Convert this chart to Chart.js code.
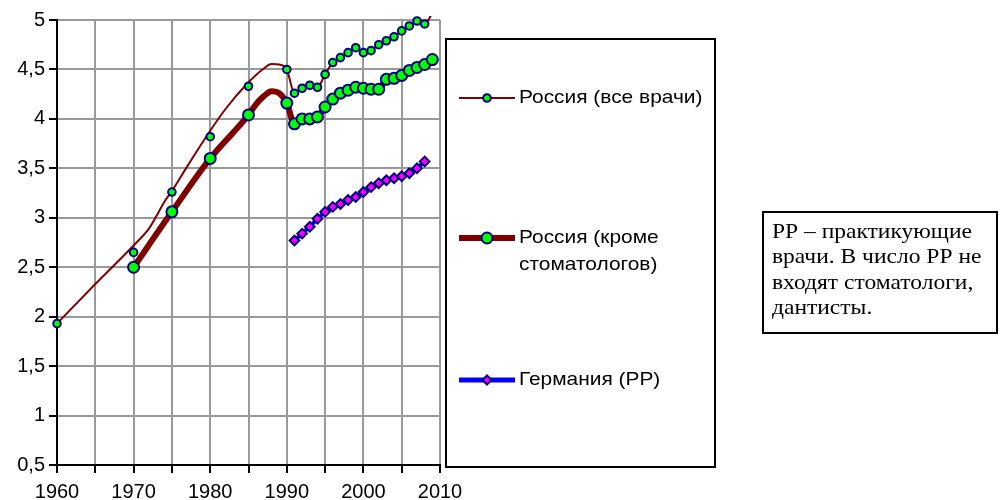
<!DOCTYPE html>
<html>
<head>
<meta charset="utf-8">
<script src="https://cdn.jsdelivr.net/npm/chart.js@4.4.1/dist/chart.umd.min.js"></script>
<style>
  body { margin: 0; background: #fff; }
  #wrap { position: relative; width: 1001px; height: 500px; }
  #note {
    position: absolute; left: 762px; top: 211px; width: 236px; height: 123px;
    box-sizing: border-box; border: 2px solid #000; padding: 6px 0 0 8px;
    font: 21px "Liberation Serif", "Times New Roman", serif; line-height: 25.3px; color: #000;
  }
  #note div { transform: scaleX(1.12); transform-origin: 0 0; white-space: nowrap; }
</style>
</head>
<body>
<div id="wrap">
  <canvas id="chart" width="1001" height="500"></canvas>
  <div id="note"><div>РР – практикующие<br>врачи. В число РР не<br>входят стоматологи,<br>дантисты.</div></div>
</div>
<script>
// Россия (все врачи): тонкая линия
const ruAllLineYears = [1960, 1965, 1970, 1972, 1973, 1974, 1975, 1977, 1980, 1982, 1985, 1987, 1988, 1989,
  1990, 1991, 1992, 1993, 1994, 1995, 1996, 1997, 1998, 1999, 2000, 2001, 2002, 2003, 2004, 2005, 2006, 2007, 2008, 2009];
const ruAllLineValues = [1.93, 2.33, 2.72, 2.89, 3.02, 3.16, 3.27, 3.52, 3.88, 4.10, 4.37, 4.51, 4.555, 4.55,
  4.50, 4.26, 4.31, 4.34, 4.32, 4.45, 4.57, 4.62, 4.67, 4.72, 4.67, 4.69, 4.75, 4.79, 4.83, 4.89, 4.94, 4.99, 4.96, 5.07];
// Россия (все врачи): маркеры
const ruAllMarkYears = [1960, 1970, 1975, 1980, 1985,
  1990, 1991, 1992, 1993, 1994, 1995, 1996, 1997, 1998, 1999, 2000, 2001, 2002, 2003, 2004, 2005, 2006, 2007, 2008];
const ruAllMarkValues = [1.93, 2.65, 3.26, 3.82, 4.33,
  4.50, 4.26, 4.31, 4.34, 4.32, 4.45, 4.57, 4.62, 4.67, 4.72, 4.67, 4.69, 4.75, 4.79, 4.83, 4.89, 4.94, 4.99, 4.96];

// Россия (кроме стоматологов)
const ruNoDentYears = [1970, 1975, 1980, 1985, 1986, 1987, 1988, 1989,
  1990, 1991, 1992, 1993, 1994, 1995, 1996, 1997, 1998, 1999, 2000, 2001, 2002, 2003, 2004, 2005, 2006, 2007, 2008, 2009];
const ruNoDentValues = [2.50, 3.06, 3.60, 4.04, 4.15, 4.23, 4.28, 4.26,
  4.16, 3.95, 4.00, 4.00, 4.02, 4.12, 4.20, 4.26, 4.29, 4.32, 4.31, 4.30, 4.30, 4.40, 4.41, 4.44, 4.49, 4.52, 4.55, 4.60];
const ruNoDentUnmarked = [1986, 1987, 1988, 1989];

// Германия (РР)
const deYears = [1991, 1992, 1993, 1994, 1995, 1996, 1997, 1998, 1999, 2000, 2001, 2002, 2003, 2004, 2005, 2006, 2007, 2008];
const deValues = [2.77, 2.84, 2.91, 2.99, 3.06, 3.11, 3.14, 3.18, 3.21, 3.26, 3.31, 3.35, 3.38, 3.40, 3.42, 3.45, 3.50, 3.57];

function pts(xs, ys) {
  return xs.map(function (x, i) { return { x: x, y: ys[i] }; });
}

const legendPlugin = {
  id: 'boxLegend',
  afterDraw: function (chart) {
    const ctx = chart.ctx;
    ctx.save();
    ctx.lineWidth = 2;
    ctx.strokeStyle = '#000';
    ctx.strokeRect(446, 39, 269, 428);

    const items = [
      { lines: ['Россия (все врачи)'], y: 98, lw: 2, lc: '#800000', shape: 'circle', r: 3.8, fill: '#00ff00' },
      { lines: ['Россия (кроме', 'стоматологов)'], y: 238, lw: 6, lc: '#800000', shape: 'circle', r: 5.5, fill: '#00ff00' },
      { lines: ['Германия (РР)'], y: 380, lw: 5, lc: '#0000ff', shape: 'diamond', r: 4.5, fill: '#ff00ff' }
    ];
    items.forEach(function (it) {
      ctx.beginPath();
      ctx.lineWidth = it.lw;
      ctx.strokeStyle = it.lc;
      ctx.moveTo(459, it.y);
      ctx.lineTo(515, it.y);
      ctx.stroke();

      ctx.beginPath();
      if (it.shape === 'circle') {
        ctx.arc(487, it.y, it.r, 0, Math.PI * 2);
      } else {
        ctx.moveTo(487 - it.r, it.y);
        ctx.lineTo(487, it.y - it.r);
        ctx.lineTo(487 + it.r, it.y);
        ctx.lineTo(487, it.y + it.r);
        ctx.closePath();
      }
      ctx.fillStyle = it.fill;
      ctx.fill();
      ctx.lineWidth = 2;
      ctx.strokeStyle = '#000080';
      ctx.stroke();

      ctx.fillStyle = '#000';
      ctx.font = '19px "Liberation Sans", Arial, sans-serif';
      ctx.textBaseline = 'middle';
      it.lines.forEach(function (t, i) {
        ctx.save();
        ctx.translate(519, it.y + i * 27);
        ctx.scale(1.1, 1);
        ctx.fillText(t, 0, 0);
        ctx.restore();
      });
    });
    ctx.restore();
  }
};

Chart.defaults.font.family = '"Liberation Sans", Arial, sans-serif';
Chart.defaults.color = '#000';

new Chart(document.getElementById('chart'), {
  type: 'line',
  data: {
    datasets: [
      {
        label: 'Германия (РР)',
        data: pts(deYears, deValues),
        borderColor: '#0000ff',
        borderWidth: 4,
        pointStyle: 'rectRot',
        pointRadius: 4.8,
        pointBackgroundColor: '#ff00ff',
        pointBorderColor: '#000080',
        pointBorderWidth: 2,
        tension: 0,
        order: 1
      },
      {
        label: 'Россия (кроме стоматологов)',
        data: pts(ruNoDentYears, ruNoDentValues),
        borderColor: '#800000',
        borderWidth: 6,
        pointRadius: function (c) {
          const p = c.raw;
          return p && ruNoDentUnmarked.indexOf(p.x) >= 0 ? 0 : 5.5;
        },
        pointBackgroundColor: '#00ff00',
        pointBorderColor: '#000080',
        pointBorderWidth: 2,
        cubicInterpolationMode: 'monotone',
        clip: false,
        order: 2
      },
      {
        label: 'Россия (все врачи)',
        data: pts(ruAllMarkYears, ruAllMarkValues),
        showLine: false,
        pointRadius: 3.8,
        pointBackgroundColor: '#00ff00',
        pointBorderColor: '#000080',
        pointBorderWidth: 2,
        clip: false,
        order: 3
      },
      {
        label: 'Россия (все врачи) линия',
        data: pts(ruAllLineYears, ruAllLineValues),
        borderColor: '#800000',
        borderWidth: 2,
        pointRadius: 0,
        cubicInterpolationMode: 'monotone',
        clip: { left: 10, right: 10, top: 4, bottom: 10 },
        order: 4
      }
    ]
  },
  options: {
    responsive: false,
    animation: false,
    layout: { padding: { left: 0, right: 561, top: 20, bottom: 0 } },
    plugins: {
      legend: { display: false },
      tooltip: { enabled: false }
    },
    scales: {
      x: {
        type: 'linear',
        min: 1960,
        max: 2010,
        afterFit: function (s) { s.height = 35; },
        border: { color: '#000', width: 2 },
        grid: { color: '#999', lineWidth: 2, tickColor: '#000', tickLength: 8 },
        ticks: {
          stepSize: 5,
          autoSkip: false,
          maxRotation: 0,
          padding: 7,
          font: { size: 20 },
          callback: function (v) { return v % 10 === 0 ? String(v) : ''; }
        }
      },
      y: {
        min: 0.5,
        max: 5,
        afterFit: function (s) { s.width = 57; },
        border: { color: '#000', width: 2 },
        grid: { color: '#999', lineWidth: 2, tickColor: '#000', tickLength: 8 },
        ticks: {
          stepSize: 0.5,
          padding: 4,
          font: { size: 20 },
          callback: function (v) { return String(v).replace('.', ','); }
        }
      }
    }
  },
  plugins: [legendPlugin]
});
</script>
</body>
</html>
